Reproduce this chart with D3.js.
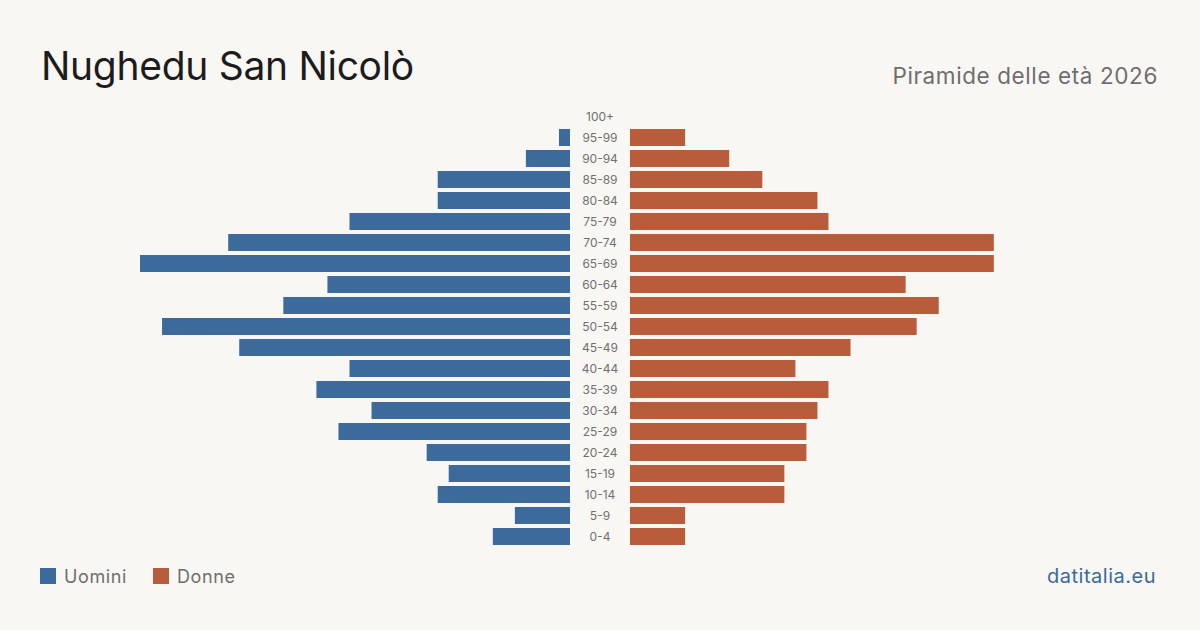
<html>
<head>
  <meta charset="utf-8" />
  <script src="https://cdnjs.cloudflare.com/ajax/libs/d3/7.8.5/d3.min.js"></script>
  <style>
    body { margin: 0; background: #f9f7f3; }
    svg { display: block; font-family: Inter, "Noto Sans", sans-serif; }
  </style>
</head>
<body>
  <svg width="1200" height="630"></svg>
  <script>
    // age groups, top to bottom
    var ageGroups = ["100+", "95-99", "90-94", "85-89", "80-84", "75-79", "70-74",
      "65-69", "60-64", "55-59", "50-54", "45-49", "40-44", "35-39", "30-34",
      "25-29", "20-24", "15-19", "10-14", "5-9", "0-4"];
    var men   = [0, 1, 4, 12, 12, 20, 31, 39, 22, 26, 37, 30, 20, 23, 18, 21, 13, 11, 12, 5, 7];
    var women = [0, 5, 9, 12, 17, 18, 33, 33, 25, 28, 26, 20, 15, 18, 17, 16, 16, 14, 14, 5, 5];

    var blue = "#3b6a9b", red = "#b95c3c";
    var svg = d3.select("svg");

    svg.append("rect").attr("width", 1200).attr("height", 630).attr("fill", "#f9f7f3");

    var maxV = d3.max(men.concat(women));
    var y = d3.scaleBand().domain(ageGroups).range([106, 547]).paddingInner(0.19).paddingOuter(0.095);
    var xL = d3.scaleLinear().domain([0, maxV]).range([570, 140]);
    var xR = d3.scaleLinear().domain([0, maxV]).range([630, 1060]);

    // bars
    svg.append("g").selectAll("rect")
      .data(ageGroups).enter().append("rect")
        .attr("x", (d, i) => xL(men[i]))
        .attr("y", d => y(d))
        .attr("width", (d, i) => xL(0) - xL(men[i]))
        .attr("height", y.bandwidth())
        .attr("fill", blue);

    svg.append("g").selectAll("rect")
      .data(ageGroups).enter().append("rect")
        .attr("x", xR(0))
        .attr("y", d => y(d))
        .attr("width", (d, i) => xR(women[i]) - xR(0))
        .attr("height", y.bandwidth())
        .attr("fill", red);

    // age labels in the middle
    svg.append("g").selectAll("text")
      .data(ageGroups).enter().append("text")
        .attr("x", 600)
        .attr("y", d => y(d) + y.bandwidth() / 2)
        .attr("dy", "0.35em")
        .attr("text-anchor", "middle")
        .attr("font-size", 12)
        .attr("fill", "#707070")
        .text(d => d);

    // titles
    svg.append("text").attr("x", 41).attr("y", 80)
      .attr("font-size", 39).attr("letter-spacing", -0.3)
      .attr("fill", "#1c1c1c").text("Nughedu San Nicolò");
    svg.append("text").attr("x", 1158).attr("y", 84).attr("text-anchor", "end")
      .attr("font-size", 22.5).attr("letter-spacing", 0.6)
      .attr("fill", "#6e6e6e").text("Piramide delle età 2026");

    // legend
    var legend = [["Uomini", blue, 40], ["Donne", red, 153]];
    legend.forEach(function (l) {
      svg.append("rect").attr("x", l[2]).attr("y", 568).attr("width", 16).attr("height", 16).attr("fill", l[1]);
      svg.append("text").attr("x", l[2] + 24).attr("y", 583)
        .attr("font-size", 18).attr("letter-spacing", 0.6)
        .attr("fill", "#6e6e6e").text(l[0]);
    });

    svg.append("text").attr("x", 1156).attr("y", 583).attr("text-anchor", "end")
      .attr("font-size", 20).attr("letter-spacing", 0.5)
      .attr("fill", "#3b6a9b").text("datitalia.eu");
  </script>
</body>
</html>
